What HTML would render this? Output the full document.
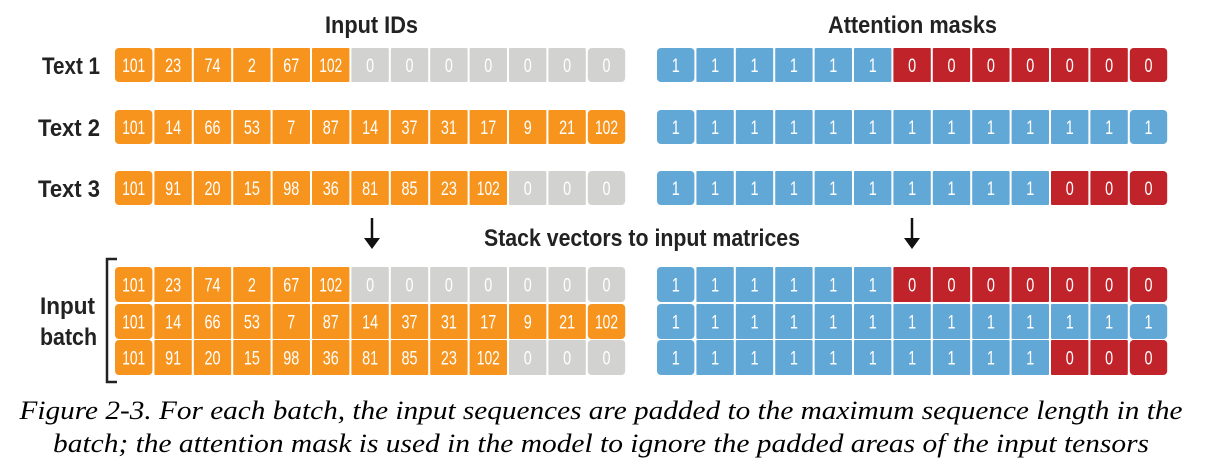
<!DOCTYPE html>
<html><head><meta charset="utf-8"><style>
html,body{margin:0;padding:0;background:#fff;width:1222px;height:471px;overflow:hidden}
svg{display:block}
.lbl{font-family:"Liberation Sans",sans-serif;font-weight:bold;fill:#222}
.cell{font-family:"Liberation Sans",sans-serif;fill:#fff;font-size:19px}
.cap{font-family:"Liberation Serif",serif;font-style:italic;font-size:26px;fill:#000}
</style></head><body>
<svg id="s" width="1222" height="471" viewBox="0 0 1222 471">
<text class="lbl" x="325" y="33" font-size="24" textLength="93" lengthAdjust="spacingAndGlyphs">Input IDs</text>
<text class="lbl" x="828" y="33" font-size="24" textLength="169" lengthAdjust="spacingAndGlyphs">Attention masks</text>
<text class="lbl" x="42" y="74" font-size="24" textLength="58" lengthAdjust="spacingAndGlyphs">Text 1</text>
<text class="lbl" x="38" y="136" font-size="24" textLength="62" lengthAdjust="spacingAndGlyphs">Text 2</text>
<text class="lbl" x="38" y="197" font-size="24" textLength="62" lengthAdjust="spacingAndGlyphs">Text 3</text>
<text class="lbl" x="484" y="246" font-size="24" textLength="316" lengthAdjust="spacingAndGlyphs">Stack vectors to input matrices</text>
<text class="lbl" x="40" y="314" font-size="24" textLength="55" lengthAdjust="spacingAndGlyphs">Input</text>
<text class="lbl" x="40" y="345" font-size="24" textLength="57" lengthAdjust="spacingAndGlyphs">batch</text>
<g><line x1="372" y1="218" x2="372" y2="242" stroke="#111" stroke-width="2.5"/><polygon points="364,238 380,238 372,249" fill="#111"/></g>
<g><line x1="912" y1="218" x2="912" y2="242" stroke="#111" stroke-width="2.5"/><polygon points="904,238 920,238 912,249" fill="#111"/></g>
<path d="M117,259 H107 V382 H117" fill="none" stroke="#222" stroke-width="2.5"/>
<text class="cap" x="601" y="419" text-anchor="middle" textLength="1163" lengthAdjust="spacingAndGlyphs">Figure 2-3. For each batch, the input sequences are padded to the maximum sequence length in the</text>
<text class="cap" x="601" y="452" text-anchor="middle" textLength="1096" lengthAdjust="spacingAndGlyphs">batch; the attention mask is used in the model to ignore the padded areas of the input tensors</text>
</svg>
<script>
const seq1=[101,23,74,2,67,102];
const seq2=[101,14,66,53,7,87,14,37,31,17,9,21,102];
const seq3=[101,91,20,15,98,36,81,85,23,102];
const maxLen=13;
const NS='http://www.w3.org/2000/svg';
const s=document.getElementById('s');
const cw=39.4;
const tl={1:8,2:16,3:23};
function row(vals,x0,y,h,kind,name){
  const g=document.createElementNS(NS,'g');
  
  
  for(let i=0;i<maxLen;i++){
    let v,col;
    if(kind==='ids'){ if(i<vals.length){v=vals[i];col='#f7941d';}else{v=0;col='#d2d2d0';} }
    else { if(i<vals.length){v=1;col='#62a8d6';}else{v=0;col='#c1232b';} }
    const r=document.createElementNS(NS,'rect');
    r.setAttribute('x',x0+i*cw);r.setAttribute('y',y);
    r.setAttribute('width',cw-2);r.setAttribute('height',h);
    r.setAttribute('rx',(i===0||i===maxLen-1)?4:1);
    r.setAttribute('fill',col);
    
    
    g.appendChild(r);
    const t=document.createElementNS(NS,'text');
    const str=String(v);
    t.setAttribute('x',x0+i*cw+(cw-2)/2);t.setAttribute('y',y+h/2+7);
    t.setAttribute('text-anchor','middle');t.setAttribute('class','cell');
    t.setAttribute('textLength',tl[str.length]);
    t.setAttribute('lengthAdjust','spacingAndGlyphs');
    
    
    t.textContent=str;
    g.appendChild(t);
  }
  s.appendChild(g);
}
const seqs=[seq1,seq2,seq3];
const topY=[48,110,171];
const batchY=[267,304,340];
seqs.forEach((q,i)=>{
  row(q,115,topY[i],34,'ids','text-'+(i+1)+'-ids');
  row(q,657,topY[i],34,'mask','text-'+(i+1)+'-mask');
  row(q,115,batchY[i],35,'ids','batch-row-'+(i+1)+'-ids');
  row(q,657,batchY[i],35,'mask','batch-row-'+(i+1)+'-mask');
});
</script>
</body></html>
